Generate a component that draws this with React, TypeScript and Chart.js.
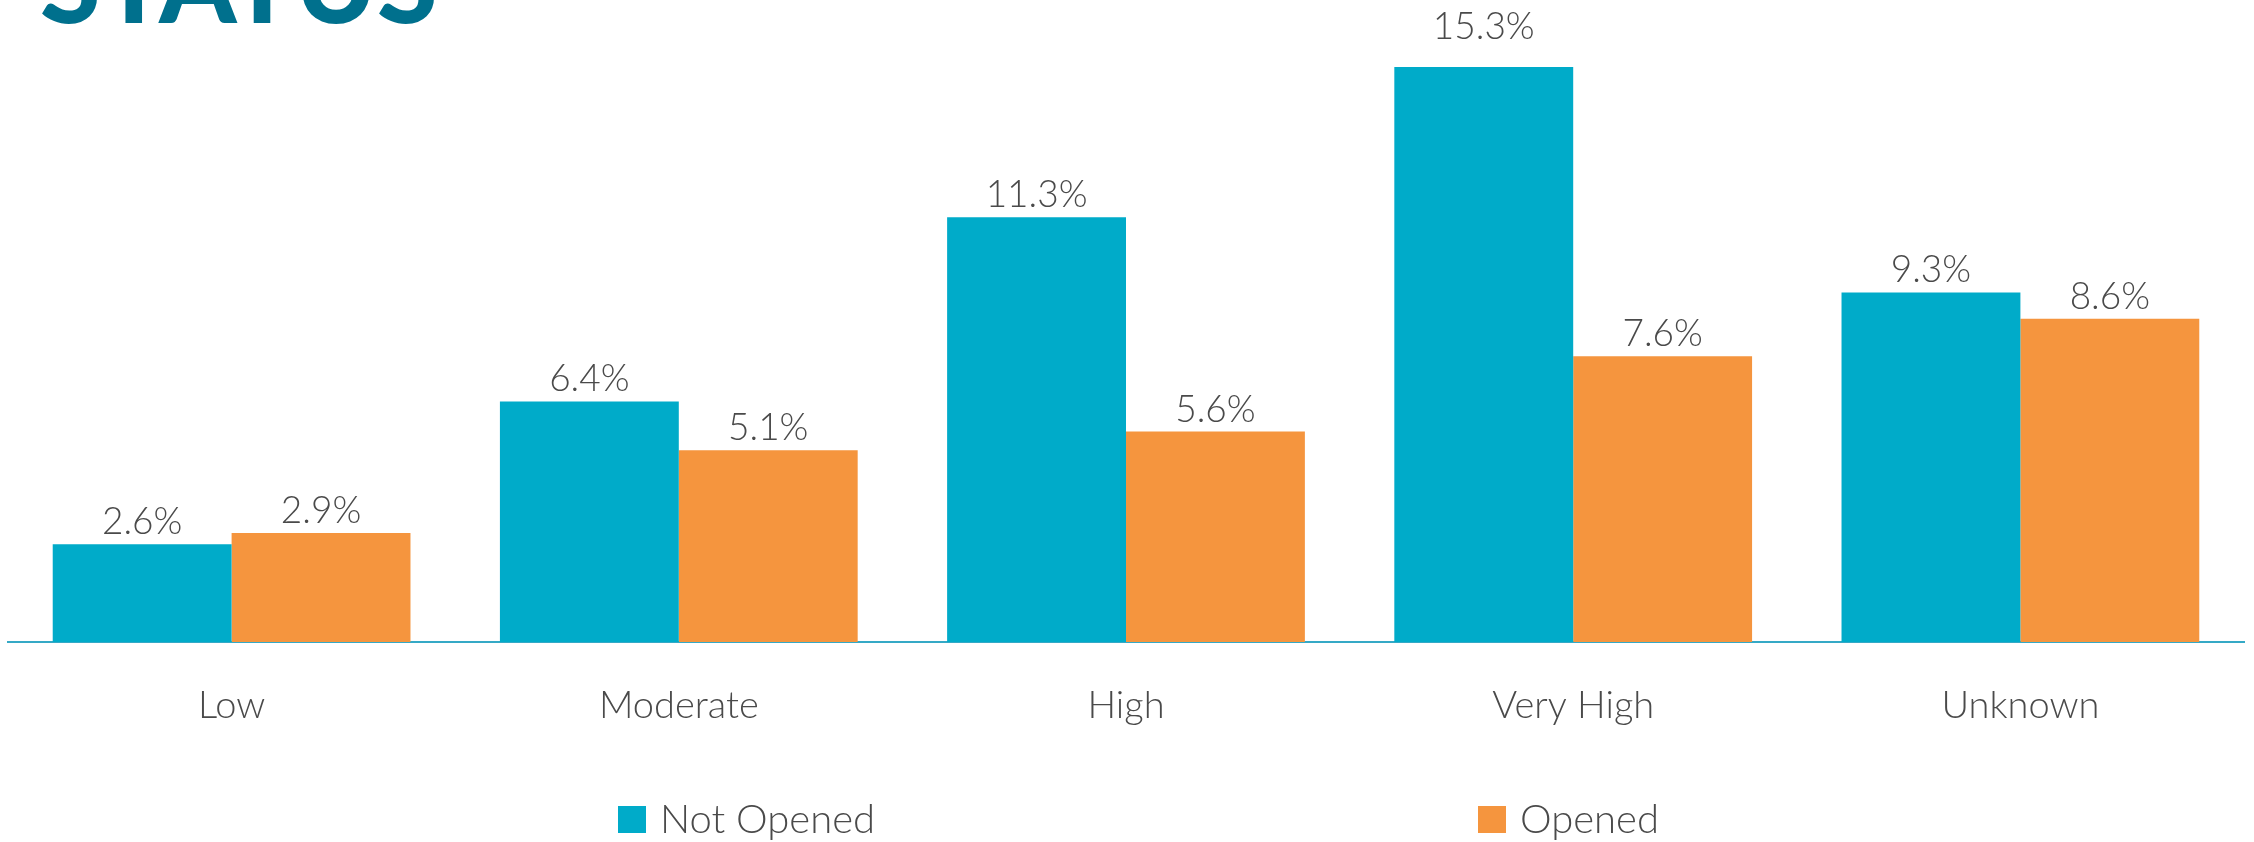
import React, { useEffect, useRef } from "react";
import { Chart, registerables } from "chart.js";

Chart.register(...registerables);

const categories = ["Low", "Moderate", "High", "Very High", "Unknown"];
const notOpenedValues = [2.6, 6.4, 11.3, 15.3, 9.3];
const openedValues = [2.9, 5.1, 5.6, 7.6, 8.6];
const seriesNames = ["Not Opened", "Opened"];
const titleText = "STATUS";

const BLUE = "#00abc9";
const ORANGE = "#f5953e";
const TEXT = "#4a4a4a";
const TITLE = "#00708d";
const AXIS = "#35a9c6";
const FONT = "Lato, 'Open Sans', sans-serif";

const valueLabels = {
  id: "valueLabels",
  afterDatasetsDraw(chart: any) {
    const ctx = chart.ctx;
    let maxV = -Infinity;
    chart.data.datasets.forEach((ds: any) => ds.data.forEach((v: number) => (maxV = Math.max(maxV, v))));
    ctx.save();
    ctx.font = `300 37px ${FONT}`;
    ctx.fillStyle = TEXT;
    ctx.textAlign = "center";
    ctx.textBaseline = "alphabetic";
    chart.data.datasets.forEach((ds: any, di: number) => {
      const meta = chart.getDatasetMeta(di);
      meta.data.forEach((bar: any, i: number) => {
        const v = ds.data[i];
        const lift = v === maxV ? 28 : 10;
        ctx.fillText(v.toFixed(1) + "%", bar.x, bar.y - lift);
      });
    });
    ctx.restore();
  },
};

const titleAndLegend = {
  id: "titleAndLegend",
  afterDraw(chart: any) {
    const ctx = chart.ctx;
    ctx.save();
    // title (only its lower part is visible)
    ctx.font = `900 110px ${FONT}`;
    ctx.fillStyle = TITLE;
    ctx.textAlign = "left";
    ctx.textBaseline = "alphabetic";
    ctx.fillText(titleText, 40, 23);

    // legend
    const items = [
      { x: 618, color: BLUE, text: seriesNames[0] },
      { x: 1478, color: ORANGE, text: seriesNames[1] },
    ];
    ctx.font = `300 40px ${FONT}`;
    items.forEach((it) => {
      ctx.fillStyle = it.color;
      ctx.fillRect(it.x, 806, 28, 27);
      ctx.fillStyle = TEXT;
      ctx.fillText(it.text, it.x + 42, 833);
    });
    ctx.restore();
  },
};

export default function App() {
  const ref = useRef<HTMLCanvasElement | null>(null);

  useEffect(() => {
    if (!ref.current) return;
    const chart = new Chart(ref.current, {
      type: "bar",
      data: {
        labels: categories,
        datasets: [
          {
            label: seriesNames[0],
            data: notOpenedValues,
            backgroundColor: BLUE,
            categoryPercentage: 0.8,
            barPercentage: 1.0,
          },
          {
            label: seriesNames[1],
            data: openedValues,
            backgroundColor: ORANGE,
            categoryPercentage: 0.8,
            barPercentage: 1.0,
          },
        ],
      },
      options: {
        responsive: false,
        animation: false,
        layout: { padding: { left: 8, right: 10, top: 0, bottom: 0 } },
        plugins: {
          legend: { display: false },
          tooltip: { enabled: false },
        },
        scales: {
          x: {
            grid: { display: false, drawTicks: false },
            border: { display: true, color: AXIS, width: 2 },
            ticks: {
              color: TEXT,
              font: { family: FONT, size: 38, weight: "300" },
              padding: 41,
              maxRotation: 0,
            },
            afterFit(scale: any) {
              scale.height = 200;
            },
          },
          y: {
            display: false,
            min: 0,
            max: 17.08,
          },
        },
      },
      plugins: [valueLabels, titleAndLegend],
    });
    return () => chart.destroy();
  }, []);

  return (
    <div style={{ position: "fixed", left: 0, top: 0, width: 2254, height: 842, background: "#ffffff" }}>
      <canvas ref={ref} width={2254} height={842} style={{ display: "block" }} />
    </div>
  );
}
